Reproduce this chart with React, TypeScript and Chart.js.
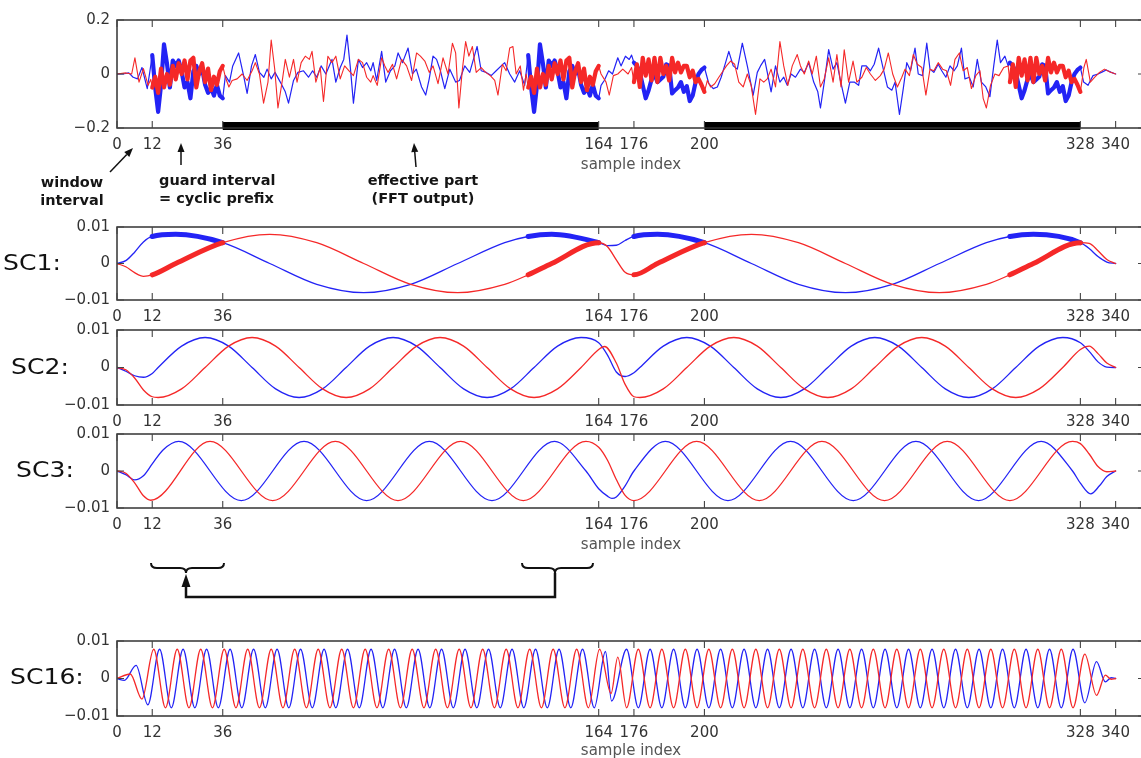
import React, { useEffect, useRef } from 'react';
import { Chart, registerables } from 'chart.js';

Chart.register(...registerables);

type Pt = [number, number];

// ---------- axes / markers ----------
const X_TICKS = [0, 12, 36, 164, 176, 200, 328, 340];
const TOP_Y_TICKS = [-0.2, 0, 0.2];
const SC_Y_TICKS = [-0.01, 0, 0.01];
const CP_RANGES: Pt[] = [[12, 36], [140, 164], [176, 200], [304, 328]];
const EFFECTIVE_PARTS: Pt[] = [[36, 164], [200, 328]];
const CP1_STARTS = [12, 140];
const CP2_STARTS = [176, 304];

// ---------- top panel: OFDM time signal (blue = real, red = imag) ----------
const topBluePre: Pt[] = [[0, 0], [2, 0], [4, 0.004], [5.5, -0.012], [7, -0.018], [8.5, 0.024], [10.3, -0.054], [11.2, 0.01]];
const topRedPre: Pt[] = [[0, 0], [3, 0.004], [5, 0], [6.1, 0.06], [7.5, -0.03], [9, 0.02], [10.6, -0.042], [11.5, -0.02]];

// cyclic prefix of symbol 1 (samples 12..36), identical to samples 140..164
const topBlueCP1 = [0.07, -0.05, -0.14, -0.04, 0.11, 0.04, -0.05, 0.05, 0.03, 0.05, 0.01, -0.05, -0.03, -0.09, 0.01, 0.03, 0.0, 0.02, -0.04, -0.07, -0.05, -0.08, -0.04, -0.08, -0.09];
const topRedCP1 = [-0.05, -0.01, -0.07, 0.02, -0.05, 0.0, -0.04, 0.03, -0.02, 0.04, 0.0, 0.05, -0.02, 0.05, 0.06, -0.05, 0.01, 0.04, -0.03, 0.02, -0.06, -0.01, -0.04, 0.01, 0.03];

const topBlueBody1: Pt[] = [[36.9, -0.006], [38.3, -0.03], [39.4, 0.03], [41.4, 0.078], [43.1, -0.006], [44.3, -0.072], [45.8, 0.03], [47.1, 0.072], [48.5, 0.006], [50, -0.012], [51.1, 0.018], [52.5, -0.018], [53.8, 0.006], [55.6, -0.03], [57.3, -0.066], [58.4, -0.108], [60.1, -0.024], [61.6, 0.006], [63.5, 0.012], [65.2, -0.012], [66.6, 0.012], [68, -0.012], [69.5, 0.03], [71.1, 0], [73.2, 0.054], [74.5, -0.03], [76, 0.024], [77.2, 0.054], [78.3, 0.144], [79.4, 0.03], [80.5, -0.108], [82.2, 0.054], [83.6, 0.024], [85, 0.042], [86.4, 0.012], [87.2, 0.042], [88.4, -0.024], [90.1, 0.084], [91.5, -0.03], [93.1, 0.012], [94.6, 0.03], [95.7, 0.078], [97.2, 0.042], [99.1, 0.096], [100.6, 0], [101.9, 0.018], [103.7, -0.048], [105.1, -0.078], [106.3, -0.018], [107.6, 0.066], [108.8, 0.054], [110.1, 0.012], [111.6, -0.054], [113.3, 0.018], [115.3, -0.03], [116.6, -0.024], [118.4, 0.03], [120.1, 0.006], [122.6, 0.102], [124, 0.012], [125.7, 0.006], [127.4, -0.006], [129.1, 0.012], [130.8, 0.03], [132, 0.042], [133.7, 0], [135.4, -0.03], [137.1, 0.012], [138.8, -0.042]];
const topRedBody1: Pt[] = [[36.9, -0.012], [38.1, -0.048], [39.2, -0.024], [40.9, -0.018], [42.6, 0], [44.3, -0.024], [46, 0.012], [47.1, 0.042], [48.5, 0], [49.9, -0.108], [51.4, -0.03], [52.5, 0.126], [53.7, 0.018], [54.8, -0.126], [56.2, -0.03], [57.3, 0.054], [58.7, -0.012], [60.1, 0.054], [61.3, -0.03], [62.7, 0.042], [64.1, 0.066], [65.5, 0.054], [66.4, 0.084], [67.7, -0.03], [69.2, 0.024], [70.3, -0.102], [71.8, 0.066], [73.2, 0.042], [74.5, 0.066], [76, -0.018], [77.5, 0.03], [79, 0.012], [80.5, -0.006], [82.2, 0.054], [83.6, 0.042], [85, -0.012], [86.4, -0.03], [87.2, -0.006], [88.6, -0.042], [90.1, 0.06], [91.2, 0.03], [92.3, 0.006], [93.8, 0.036], [95.2, -0.018], [96.9, 0.054], [98.6, 0.03], [100.3, -0.024], [102, 0.078], [103.3, 0.066], [104.8, 0.048], [106.3, 0.006], [107.6, 0.03], [109.3, -0.036], [111, 0.06], [112.7, 0], [114.2, 0.114], [115.3, 0.078], [116.4, -0.126], [117.6, 0.018], [118.7, 0.12], [119.8, 0.066], [121, 0.102], [122.3, 0.006], [124, 0.024], [125.5, 0.006], [127.1, -0.006], [128.6, -0.024], [129.7, -0.078], [131.2, 0.036], [132.5, 0.012], [133.7, 0.096], [134.8, 0.102], [135.9, 0], [137.3, 0.03], [138.4, -0.06], [139.3, 0]];

const topBlueOverlap: Pt[] = [[164.8, -0.042], [165.9, -0.024], [167.4, 0.012], [168.7, 0], [170.5, 0.06], [171.6, 0.03], [173.1, 0.066], [174.4, 0.054], [175.2, 0.07]];
const topRedOverlap: Pt[] = [[164.8, 0], [166.5, -0.03], [167.6, -0.078], [169, -0.006], [170.5, 0], [172.2, 0.018], [174, 0], [175.2, 0.024]];

// cyclic prefix of symbol 2 (samples 176..200), identical to samples 304..328
const topBlueCP2 = [0.042, 0.03, 0.006, -0.042, -0.09, -0.06, -0.02, 0, -0.03, -0.02, -0.01, 0.036, 0.03, -0.072, -0.06, -0.05, -0.03, -0.066, -0.045, -0.1, -0.08, -0.03, 0.0, 0.015, 0.024];
const topRedCP2 = [-0.03, 0.036, -0.048, 0.06, -0.006, 0.054, -0.024, 0.06, -0.03, 0.06, 0, 0.03, -0.024, 0.06, 0.006, 0.042, 0.006, 0.03, 0.03, -0.012, 0.012, -0.03, -0.018, -0.04, -0.066];

const topBlueBody2: Pt[] = [[201.5, -0.036], [203, -0.054], [204.4, -0.048], [205.7, -0.012], [207.2, 0.042], [208.3, 0.084], [209.8, 0.03], [211.2, 0.018], [212.9, 0.114], [214.6, 0.03], [216.6, -0.078], [218, 0.006], [219.1, 0.03], [220.5, 0.054], [221.4, 0.006], [222.7, -0.066], [224.2, 0.03], [225.7, -0.03], [227, -0.012], [228.2, -0.042], [229.5, 0], [231, -0.012], [232.7, 0.018], [234, 0.006], [235.5, 0.042], [237.2, -0.03], [238.6, -0.066], [239.5, -0.126], [240.8, -0.03], [242.3, 0.09], [243.8, 0.018], [245.1, 0.042], [246.3, -0.024], [248, -0.108], [249.5, -0.03], [251, -0.03], [252.5, -0.042], [253.6, 0.03], [255.1, 0.03], [256.5, 0.012], [257.8, 0.036], [259.3, 0.096], [260.9, 0.018], [262.3, -0.048], [263.8, -0.06], [264.9, -0.03], [266.4, -0.15], [267.7, -0.054], [268.9, 0.042], [270.2, 0.012], [271.7, 0.096], [272.8, 0], [274.3, -0.006], [275.7, 0.114], [276.8, 0.018], [278.1, 0.006], [279.6, 0.036], [280.8, 0.012], [282.2, -0.012], [283.6, 0.03], [285, 0.012], [286.1, 0.03], [287.5, 0.096], [288.7, -0.018], [290.2, -0.012], [291.5, -0.048], [292.9, 0.054], [294.3, -0.03], [295.8, -0.048], [297.2, -0.084], [298.5, 0.03], [299.7, 0.126], [300.8, 0.042], [302.3, 0.066], [303.4, 0.03]];
const topRedBody2: Pt[] = [[201, -0.024], [202.1, -0.048], [203.5, -0.036], [204.9, -0.012], [206.4, 0.012], [207.5, 0.03], [208.9, 0.048], [210.3, 0.036], [211.7, -0.03], [213.2, -0.048], [214.6, 0], [215.9, -0.042], [217.4, -0.15], [218.9, -0.018], [220.2, -0.03], [221.4, -0.018], [222.7, 0.018], [224.2, -0.048], [225.7, 0.12], [227, 0.03], [228.4, -0.042], [229.9, 0.03], [231.6, 0.072], [232.7, 0.03], [234, 0], [235.5, 0.048], [236.7, 0], [238.1, 0.066], [239.5, -0.048], [240.8, -0.018], [242.3, 0.06], [243.8, -0.03], [245.1, 0.072], [246.5, -0.048], [247.6, 0.09], [249.1, -0.03], [250.6, 0.048], [251.9, -0.03], [253.6, -0.012], [255.1, 0.024], [256.5, 0], [258.2, -0.024], [259.9, -0.006], [261.2, 0.018], [262.6, 0.078], [264.1, 0], [265.7, -0.048], [267.2, -0.012], [268.3, 0.018], [269.8, -0.006], [271.1, 0.072], [272.5, 0.036], [274, 0.024], [275.4, -0.078], [276.8, 0.018], [278.1, 0.012], [279.6, 0.042], [281.1, 0.018], [282.4, 0.012], [283.8, -0.042], [285.3, 0.054], [286.8, 0.078], [288.1, 0.012], [289.5, 0.024], [290.9, -0.054], [292.4, -0.006], [293.8, 0.012], [294.9, -0.09], [296, -0.126], [297.4, -0.042], [298.9, 0], [300.3, -0.006], [301.9, 0.024], [303.4, 0.03]];

const topBluePost: Pt[] = [[329.1, -0.03], [330.6, -0.042], [332.3, -0.006], [334, 0], [335.5, 0.008], [336.8, 0.015], [338.5, 0.006], [340, 0]];
const topRedPost: Pt[] = [[329.2, 0.024], [330, 0.054], [331.4, -0.03], [332.9, -0.012], [334.5, 0.006], [336.2, 0.018], [337.9, 0.008], [340, 0]];

// ---------- subcarrier panels ----------
const sc1Blue: Pt[] = [[0, 0], [3, 0.0008], [6, 0.0031], [9, 0.0059], [12, 0.0074], [20, 0.008], [36, 0.0057], [52, 0], [68, -0.0057], [84, -0.008], [100, -0.0057], [116, 0], [132, 0.0057], [140, 0.0074], [148, 0.008], [164, 0.0057], [167, 0.0049], [170, 0.005], [173, 0.0063], [176, 0.0074], [184, 0.008], [200, 0.0057], [216, 0], [232, -0.0057], [248, -0.008], [264, -0.0057], [280, 0], [296, 0.0057], [304, 0.0074], [312, 0.008], [328, 0.0057], [331, 0.0041], [334, 0.0019], [337, 0.0004], [340, 0]];
const sc1Red: Pt[] = [[0, 0], [3, -0.0009], [6, -0.0025], [9, -0.0035], [12, -0.0031], [20, 0], [36, 0.0057], [52, 0.008], [68, 0.0057], [84, 0], [100, -0.0057], [116, -0.008], [132, -0.0057], [140, -0.0031], [148, 0], [164, 0.0057], [167, 0.0046], [170, 0.001], [173, -0.0024], [176, -0.0031], [184, 0], [200, 0.0057], [216, 0.008], [232, 0.0057], [248, 0], [264, -0.0057], [280, -0.008], [296, -0.0057], [304, -0.0031], [312, 0], [328, 0.0057], [331, 0.0055], [334, 0.0035], [337, 0.0011], [340, 0]];

const sc2Blue: Pt[] = [[0, 0], [3, -0.001], [6, -0.0022], [9, -0.0026], [12, -0.0016], [14, 0], [22, 0.0057], [30, 0.008], [38, 0.0057], [46, 0], [54, -0.0057], [62, -0.008], [70, -0.0057], [78, 0], [86, 0.0057], [94, 0.008], [102, 0.0057], [110, 0], [118, -0.0057], [126, -0.008], [134, -0.0057], [142, 0], [150, 0.0057], [158, 0.008], [164, 0.0066], [167, 0.0033], [170, -0.0012], [173, -0.0024], [176, -0.0014], [178, 0], [186, 0.0057], [194, 0.008], [202, 0.0057], [210, 0], [218, -0.0057], [226, -0.008], [234, -0.0057], [242, 0], [250, 0.0057], [258, 0.008], [266, 0.0057], [274, 0], [282, -0.0057], [290, -0.008], [298, -0.0057], [306, 0], [314, 0.0057], [322, 0.008], [328, 0.0066], [331, 0.0043], [334, 0.0015], [337, 0.0001], [340, 0]];
const sc2Red: Pt[] = [[0, 0], [3, -0.0006], [6, -0.0028], [9, -0.006], [12, -0.0078], [14, -0.008], [22, -0.0057], [30, 0], [38, 0.0057], [46, 0.008], [54, 0.0057], [62, 0], [70, -0.0057], [78, -0.008], [86, -0.0057], [94, 0], [102, 0.0057], [110, 0.008], [118, 0.0057], [126, 0], [134, -0.0057], [142, -0.008], [150, -0.0057], [158, 0], [164, 0.0048], [166, 0.0056], [170, 0.0012], [173, -0.0045], [176, -0.0078], [178, -0.008], [186, -0.0057], [194, 0], [202, 0.0057], [210, 0.008], [218, 0.0057], [226, 0], [234, -0.0057], [242, -0.008], [250, -0.0057], [258, 0], [266, 0.0057], [274, 0.008], [282, 0.0057], [290, 0], [298, -0.0057], [306, -0.008], [314, -0.0057], [322, 0], [328, 0.0048], [331, 0.0057], [334, 0.0037], [337, 0.0012], [340, 0]];

const sc3Blue: Pt[] = [[0, 0], [3, -0.001], [6, -0.0024], [9, -0.0013], [12, 0.0019], [15.67, 0.0057], [21, 0.008], [42.33, -0.008], [63.67, 0.008], [85, -0.008], [106.33, 0.008], [127.67, -0.008], [149, 0.008], [159.67, 0], [164, -0.0048], [167, -0.0068], [168.5, -0.0074], [170, -0.007], [173, -0.004], [176, 0], [186.67, 0.008], [208, -0.008], [229.33, 0.008], [250.67, -0.008], [272, 0.008], [293.33, -0.008], [314.67, 0.008], [325.33, 0], [328, -0.0033], [331.5, -0.0062], [334.5, -0.004], [337, -0.0015], [340, 0]];
const sc3Red: Pt[] = [[0, 0], [3, -0.0006], [6, -0.0032], [9, -0.0067], [11.5, -0.0079], [31.67, 0.008], [53, -0.008], [74.33, 0.008], [95.67, -0.008], [117, 0.008], [138.33, -0.008], [159.67, 0.008], [164, 0.0064], [167, 0.0029], [170, -0.0023], [173, -0.0066], [176, -0.008], [197.33, 0.008], [218.67, -0.008], [240, 0.008], [261.33, -0.008], [282.67, 0.008], [304, -0.008], [325.33, 0.008], [328, 0.0074], [331, 0.0046], [334, 0.0012], [337, -0.0002], [340, 0]];

const sc16Blue: Pt[] = [[0, 0], [2.5, -0.0005], [6.5, 0.0035], [10.5, -0.007], [14.5, 0.0078], [18.5, -0.0078], [22.5, 0.0078], [26.5, -0.0078], [30.5, 0.0078], [34.5, -0.0078], [38.5, 0.0078], [42.5, -0.0078], [46.5, 0.0078], [50.5, -0.0078], [54.5, 0.0078], [58.5, -0.0078], [62.5, 0.0078], [66.5, -0.0078], [70.5, 0.0078], [74.5, -0.0078], [78.5, 0.0078], [82.5, -0.0078], [86.5, 0.0078], [90.5, -0.0078], [94.5, 0.0078], [98.5, -0.0078], [102.5, 0.0078], [106.5, -0.0078], [110.5, 0.0078], [114.5, -0.0078], [118.5, 0.0078], [122.5, -0.0078], [126.5, 0.0078], [130.5, -0.0078], [134.5, 0.0078], [138.5, -0.0078], [142.5, 0.0078], [146.5, -0.0078], [150.5, 0.0078], [154.5, -0.0078], [158.5, 0.0078], [162.5, -0.0078], [166.3, 0.0072], [168.4, -0.006], [173.5, 0.0078], [177.5, -0.0078], [181.5, 0.0078], [185.5, -0.0078], [189.5, 0.0078], [193.5, -0.0078], [197.5, 0.0078], [201.5, -0.0078], [205.5, 0.0078], [209.5, -0.0078], [213.5, 0.0078], [217.5, -0.0078], [221.5, 0.0078], [225.5, -0.0078], [229.5, 0.0078], [233.5, -0.0078], [237.5, 0.0078], [241.5, -0.0078], [245.5, 0.0078], [249.5, -0.0078], [253.5, 0.0078], [257.5, -0.0078], [261.5, 0.0078], [265.5, -0.0078], [269.5, 0.0078], [273.5, -0.0078], [277.5, 0.0078], [281.5, -0.0078], [285.5, 0.0078], [289.5, -0.0078], [293.5, 0.0078], [297.5, -0.0078], [301.5, 0.0078], [305.5, -0.0078], [309.5, 0.0078], [313.5, -0.0078], [317.5, 0.0078], [321.5, -0.0078], [325.5, 0.0078], [329.5, -0.0065], [333.5, 0.0045], [336.5, -0.0009], [338.5, 0.0002], [340, 0]];
const sc16Red: Pt[] = [[0, 0], [4.5, 0.0012], [8.5, -0.0055], [12.5, 0.0078], [16.5, -0.0078], [20.5, 0.0078], [24.5, -0.0078], [28.5, 0.0078], [32.5, -0.0078], [36.5, 0.0078], [40.5, -0.0078], [44.5, 0.0078], [48.5, -0.0078], [52.5, 0.0078], [56.5, -0.0078], [60.5, 0.0078], [64.5, -0.0078], [68.5, 0.0078], [72.5, -0.0078], [76.5, 0.0078], [80.5, -0.0078], [84.5, 0.0078], [88.5, -0.0078], [92.5, 0.0078], [96.5, -0.0078], [100.5, 0.0078], [104.5, -0.0078], [108.5, 0.0078], [112.5, -0.0078], [116.5, 0.0078], [120.5, -0.0078], [124.5, 0.0078], [128.5, -0.0078], [132.5, 0.0078], [136.5, -0.0078], [140.5, 0.0078], [144.5, -0.0078], [148.5, 0.0078], [152.5, -0.0078], [156.5, 0.0078], [160.5, -0.0078], [164.3, 0.0078], [168.2, -0.004], [170.5, 0.0057], [173.5, -0.0078], [177.5, 0.0078], [181.5, -0.0078], [185.5, 0.0078], [189.5, -0.0078], [193.5, 0.0078], [197.5, -0.0078], [201.5, 0.0078], [205.5, -0.0078], [209.5, 0.0078], [213.5, -0.0078], [217.5, 0.0078], [221.5, -0.0078], [225.5, 0.0078], [229.5, -0.0078], [233.5, 0.0078], [237.5, -0.0078], [241.5, 0.0078], [245.5, -0.0078], [249.5, 0.0078], [253.5, -0.0078], [257.5, 0.0078], [261.5, -0.0078], [265.5, 0.0078], [269.5, -0.0078], [273.5, 0.0078], [277.5, -0.0078], [281.5, 0.0078], [285.5, -0.0078], [289.5, 0.0078], [293.5, -0.0078], [297.5, 0.0078], [301.5, -0.0078], [305.5, 0.0078], [309.5, -0.0078], [313.5, 0.0078], [317.5, -0.0078], [321.5, 0.0078], [325.5, -0.0078], [329.5, 0.0065], [333.5, -0.0045], [336.5, 0.0009], [338.5, -0.0002], [340, 0]];

// ---------- helpers ----------
const FONT = '"DejaVu Sans", "Liberation Sans", Arial, sans-serif';
const BLUE = 'rgb(35,35,245)';
const RED = 'rgb(245,40,40)';
const CANVAS_W = 1145;
const Y_AXIS_W = 117;
const TOP_PAD = 14;

type XY = { x: number; y: number };
const pts = (arr: Pt[]): XY[] => arr.map(([x, y]) => ({ x, y }));
const cpPts = (vals: number[], start: number): XY[] => vals.map((v, i) => ({ x: start + i, y: v }));

const topBlue: XY[] = [
  ...pts(topBluePre), ...cpPts(topBlueCP1, CP1_STARTS[0]), ...pts(topBlueBody1), ...cpPts(topBlueCP1, CP1_STARTS[1]),
  ...pts(topBlueOverlap), ...cpPts(topBlueCP2, CP2_STARTS[0]), ...pts(topBlueBody2), ...cpPts(topBlueCP2, CP2_STARTS[1]), ...pts(topBluePost),
];
const topRed: XY[] = [
  ...pts(topRedPre), ...cpPts(topRedCP1, CP1_STARTS[0]), ...pts(topRedBody1), ...cpPts(topRedCP1, CP1_STARTS[1]),
  ...pts(topRedOverlap), ...cpPts(topRedCP2, CP2_STARTS[0]), ...pts(topRedBody2), ...cpPts(topRedCP2, CP2_STARTS[1]), ...pts(topRedPost),
];

const inThick = (a: number, b: number) => CP_RANGES.some(([s, e]) => a >= s - 1e-6 && b <= e + 1e-6);

function lineDs(data: XY[], color: string, width: number, smooth: boolean, thickW?: number) {
  const ds: any = {
    data,
    borderColor: color,
    borderWidth: width,
    pointRadius: 0,
    fill: false,
    tension: 0,
    borderJoinStyle: 'round',
    borderCapStyle: 'round',
  };
  if (smooth) ds.cubicInterpolationMode = 'monotone';
  if (thickW) {
    ds.segment = {
      borderWidth: (ctx: any) => {
        const a = data[ctx.p0DataIndex];
        const b = data[ctx.p1DataIndex];
        return a && b && inThick(a.x, b.x) ? thickW : undefined;
      },
    };
  }
  return ds;
}

const yLabel = (v: number) => (v === 0 ? '0' : v < 0 ? '\u2212' + String(Math.abs(v)) : String(v));

const boxPlugin = {
  id: 'matlabBox',
  afterDatasetsDraw(chart: any) {
    const { ctx, chartArea: a, scales } = chart;
    ctx.save();
    ctx.strokeStyle = '#333';
    ctx.lineWidth = 1.5;
    ctx.strokeRect(a.left, a.top, a.right - a.left, a.bottom - a.top);
    ctx.lineWidth = 1.1;
    ctx.strokeStyle = '#444';
    ctx.beginPath();
    for (const t of scales.x.ticks) {
      const px = scales.x.getPixelForValue(t.value);
      ctx.moveTo(px, a.top); ctx.lineTo(px, a.top + 7);
      ctx.moveTo(px, a.bottom); ctx.lineTo(px, a.bottom - 7);
    }
    for (const t of scales.y.ticks) {
      const py = scales.y.getPixelForValue(t.value);
      ctx.moveTo(a.left, py); ctx.lineTo(a.left + 7, py);
      ctx.moveTo(a.right, py); ctx.lineTo(a.right - 7, py);
    }
    ctx.stroke();
    ctx.restore();
  },
};

type PanelSpec = {
  id: string;
  plotTop: number;
  plotH: number;
  axisH: number;
  titlePad: number | null;
  yMin: number;
  yMax: number;
  yTicks: number[];
  datasets: any[];
};

function buildConfig(spec: PanelSpec): any {
  return {
    type: 'line',
    data: { datasets: spec.datasets },
    options: {
      animation: false,
      responsive: false,
      maintainAspectRatio: false,
      devicePixelRatio: 1,
      layout: { padding: { top: TOP_PAD, left: 0, right: 0, bottom: 0 } },
      plugins: { legend: { display: false }, tooltip: { enabled: false }, title: { display: false } },
      elements: { point: { radius: 0 } },
      scales: {
        x: {
          type: 'linear',
          min: 0,
          max: 350,
          afterBuildTicks: (s: any) => { s.ticks = X_TICKS.map((v) => ({ value: v })); },
          afterFit: (s: any) => { s.height = spec.axisH; },
          grid: { display: false, drawTicks: false },
          border: { display: false },
          ticks: {
            autoSkip: false,
            maxRotation: 0,
            padding: 8,
            color: '#333',
            font: { family: FONT, size: 15 },
            callback: (v: any) => String(v),
          },
          title: spec.titlePad !== null
            ? { display: true, text: 'sample index', color: '#555', font: { family: FONT, size: 15 }, padding: { top: 0, bottom: spec.titlePad } }
            : { display: false },
        },
        y: {
          min: spec.yMin,
          max: spec.yMax,
          afterBuildTicks: (s: any) => { s.ticks = spec.yTicks.map((v) => ({ value: v })); },
          afterFit: (s: any) => { s.width = Y_AXIS_W; },
          grid: { display: false, drawTicks: false },
          border: { display: false },
          ticks: {
            padding: 7,
            color: '#333',
            font: { family: FONT, size: 15 },
            callback: (v: any) => yLabel(Number(v)),
          },
        },
      },
    },
    plugins: [boxPlugin],
  };
}

function Panel({ spec }: { spec: PanelSpec }) {
  const ref = useRef<HTMLCanvasElement>(null);
  const h = TOP_PAD + spec.plotH + spec.axisH;
  useEffect(() => {
    if (!ref.current) return;
    const chart = new Chart(ref.current, buildConfig(spec));
    return () => chart.destroy();
  }, [spec]);
  return (
    <canvas
      ref={ref}
      width={CANVAS_W}
      height={h}
      style={{ position: 'absolute', left: 0, top: spec.plotTop - TOP_PAD, width: CANVAS_W, height: h }}
    />
  );
}

const effBars = EFFECTIVE_PARTS.map(([s, e]) => ({
  data: [{ x: s, y: -0.193 }, { x: e, y: -0.193 }],
  borderColor: '#000',
  borderWidth: 8,
  borderCapStyle: 'butt',
  pointRadius: 0,
  clip: false,
  tension: 0,
}));

const PANELS: PanelSpec[] = [
  {
    id: 'top', plotTop: 18, plotH: 110, axisH: 50, titlePad: 4, yMin: -0.2, yMax: 0.2, yTicks: TOP_Y_TICKS,
    datasets: [lineDs(topRed, RED, 1.1, false, 4.2), lineDs(topBlue, BLUE, 1.2, false, 4.2), ...effBars],
  },
  {
    id: 'sc1', plotTop: 225, plotH: 75, axisH: 30, titlePad: null, yMin: -0.01, yMax: 0.01, yTicks: SC_Y_TICKS,
    datasets: [lineDs(pts(sc1Red), RED, 1.3, true, 5), lineDs(pts(sc1Blue), BLUE, 1.3, true, 5)],
  },
  {
    id: 'sc2', plotTop: 328, plotH: 77, axisH: 30, titlePad: null, yMin: -0.01, yMax: 0.01, yTicks: SC_Y_TICKS,
    datasets: [lineDs(pts(sc2Red), RED, 1.3, true), lineDs(pts(sc2Blue), BLUE, 1.3, true)],
  },
  {
    id: 'sc3', plotTop: 432, plotH: 76, axisH: 50, titlePad: 4, yMin: -0.01, yMax: 0.01, yTicks: SC_Y_TICKS,
    datasets: [lineDs(pts(sc3Red), RED, 1.3, true), lineDs(pts(sc3Blue), BLUE, 1.3, true)],
  },
  {
    id: 'sc16', plotTop: 639, plotH: 77, axisH: 50, titlePad: 6, yMin: -0.01, yMax: 0.01, yTicks: SC_Y_TICKS,
    datasets: [lineDs(pts(sc16Red), RED, 1.3, true), lineDs(pts(sc16Blue), BLUE, 1.3, true)],
  },
];

const SC_LABELS: { text: string; left: number; cy: number }[] = [
  { text: 'SC1:', left: 3, cy: 263 },
  { text: 'SC2:', left: 11, cy: 367 },
  { text: 'SC3:', left: 16, cy: 470 },
  { text: 'SC16:', left: 10, cy: 677 },
];

function Arrow({ x1, y1, x2, y2, w = 1.5, head = 9, hw = 3.5 }: { x1: number; y1: number; x2: number; y2: number; w?: number; head?: number; hw?: number }) {
  const dx = x2 - x1;
  const dy = y2 - y1;
  const L = Math.hypot(dx, dy);
  const ux = dx / L;
  const uy = dy / L;
  const bx = x2 - ux * head;
  const by = y2 - uy * head;
  const px = -uy * hw;
  const py = ux * hw;
  return (
    <g>
      <line x1={x1} y1={y1} x2={bx} y2={by} stroke="#111" strokeWidth={w} />
      <polygon points={`${x2},${y2} ${bx + px},${by + py} ${bx - px},${by - py}`} fill="#111" />
    </g>
  );
}

const annoText: React.CSSProperties = {
  position: 'absolute',
  fontFamily: FONT,
  fontWeight: 'bold',
  fontSize: 14.5,
  lineHeight: '18px',
  color: '#151515',
  whiteSpace: 'nowrap',
};

export default function App() {
  return (
    <div style={{ position: 'absolute', left: 0, top: 0, width: 1141, height: 758, overflow: 'hidden', background: '#fff' }}>
      {PANELS.map((p) => (
        <Panel key={p.id} spec={p} />
      ))}
      {SC_LABELS.map((l) => (
        <div
          key={l.text}
          style={{
            position: 'absolute', left: l.left, top: l.cy - 13, height: 26, lineHeight: '26px',
            fontFamily: FONT, fontSize: 22, color: '#111', whiteSpace: 'nowrap',
            transform: 'scaleX(1.14)', transformOrigin: 'left center',
          }}
        >
          {l.text}
        </div>
      ))}
      <div style={{ ...annoText, left: 22, top: 173, width: 100, textAlign: 'center' }}>window<br />interval</div>
      <div style={{ ...annoText, left: 159, top: 171 }}>guard interval<br />= cyclic prefix</div>
      <div style={{ ...annoText, left: 363, top: 171, width: 120, textAlign: 'center' }}>effective part<br />(FFT output)</div>
      <svg width={1141} height={758} style={{ position: 'absolute', left: 0, top: 0, pointerEvents: 'none' }}>
        <Arrow x1={110} y1={172} x2={133} y2={148} />
        <Arrow x1={181} y1={165} x2={181} y2={143} />
        <Arrow x1={416} y1={167} x2={414} y2={143} />
        <path d="M151,563 Q151,568 157,568 L180,568 Q186,568 186,573 Q186,568 192,568 L218,568 Q224,568 224,563" fill="none" stroke="#111" strokeWidth={2} />
        <path d="M522,563 Q522,568 528,568 L549,568 Q555,568 555,573 Q555,568 561,568 L587,568 Q593,568 593,563" fill="none" stroke="#111" strokeWidth={2} />
        <path d="M555,573 L555,597 L186,597 L186,585" fill="none" stroke="#111" strokeWidth={2.5} />
        <polygon points="186,574 181.5,587 190.5,587" fill="#111" />
      </svg>
    </div>
  );
}
